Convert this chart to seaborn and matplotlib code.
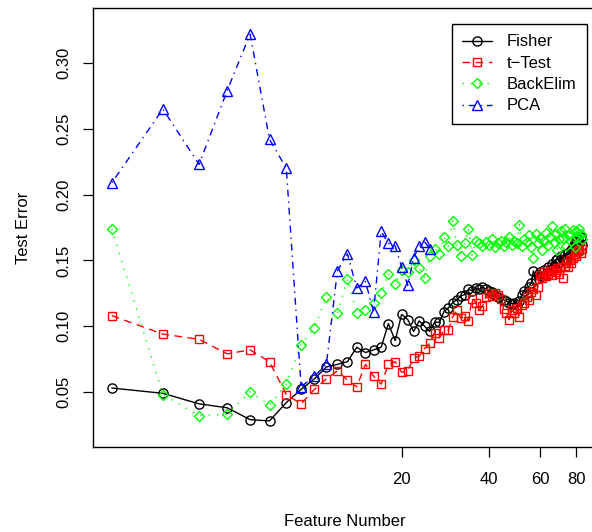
import pandas as pd
import matplotlib
matplotlib.use("Agg")
import matplotlib.pyplot as plt
import seaborn as sns

# feature counts (x) and test error of each selection method
features = list(range(2, 85))
pca_features = list(range(2, 26))

fisher = [0.053, 0.049, 0.041, 0.038, 0.029, 0.028, 0.042, 0.052, 0.060, 0.069,
          0.071, 0.073, 0.084, 0.080, 0.082, 0.084, 0.102, 0.089, 0.109, 0.105,
          0.096, 0.104, 0.100, 0.096, 0.103, 0.103, 0.111, 0.114, 0.118, 0.120,
          0.123, 0.124, 0.128, 0.127, 0.129, 0.128, 0.130, 0.128, 0.127, 0.126,
          0.124, 0.122, 0.121, 0.120, 0.119, 0.118, 0.117, 0.118, 0.116, 0.119,
          0.124, 0.127, 0.125, 0.130, 0.133, 0.142, 0.136, 0.139, 0.141, 0.138,
          0.143, 0.140, 0.145, 0.143, 0.147, 0.146, 0.150, 0.151, 0.149, 0.153,
          0.150, 0.155, 0.152, 0.156, 0.154, 0.158, 0.160, 0.163, 0.165, 0.166,
          0.163, 0.168, 0.162]

ttest = [0.108, 0.094, 0.090, 0.079, 0.082, 0.073, 0.048, 0.041, 0.052, 0.060,
         0.066, 0.059, 0.054, 0.071, 0.062, 0.056, 0.071, 0.073, 0.065, 0.066,
         0.076, 0.077, 0.083, 0.087, 0.095, 0.091, 0.097, 0.097, 0.107, 0.112,
         0.106, 0.108, 0.104, 0.121, 0.118, 0.112, 0.115, 0.122, 0.125, 0.123,
         0.125, 0.124, 0.121, 0.113, 0.110, 0.105, 0.112, 0.110, 0.114, 0.107,
         0.116, 0.118, 0.122, 0.120, 0.126, 0.128, 0.124, 0.130, 0.139, 0.137,
         0.141, 0.138, 0.140, 0.142, 0.139, 0.143, 0.141, 0.144, 0.140, 0.145,
         0.137, 0.146, 0.148, 0.145, 0.150, 0.148, 0.152, 0.155, 0.153, 0.157,
         0.158, 0.156, 0.159]

backelim = [0.174, 0.048, 0.032, 0.033, 0.050, 0.040, 0.056, 0.086, 0.099, 0.122,
            0.110, 0.136, 0.110, 0.112, 0.118, 0.125, 0.140, 0.132, 0.143, 0.141,
            0.150, 0.144, 0.137, 0.153, 0.159, 0.155, 0.168, 0.161, 0.180, 0.162,
            0.153, 0.163, 0.174, 0.154, 0.165, 0.163, 0.161, 0.164, 0.162, 0.166,
            0.160, 0.163, 0.165, 0.161, 0.164, 0.168, 0.162, 0.165, 0.163, 0.177,
            0.161, 0.166, 0.164, 0.169, 0.160, 0.152, 0.170, 0.163, 0.167, 0.158,
            0.165, 0.171, 0.162, 0.168, 0.176, 0.164, 0.170, 0.158, 0.166, 0.172,
            0.167, 0.174, 0.161, 0.169, 0.171, 0.165, 0.173, 0.160, 0.172, 0.168,
            0.174, 0.170, 0.166]

pca = [0.209, 0.265, 0.223, 0.279, 0.322, 0.242, 0.220, 0.054, 0.062, 0.071,
       0.142, 0.155, 0.129, 0.134, 0.111, 0.172, 0.163, 0.161, 0.145, 0.131,
       0.152, 0.161, 0.164, 0.159]

methods = ["Fisher", "t\u2212Test", "BackElim", "PCA"]
yticks = [0.05, 0.10, 0.15, 0.20, 0.25, 0.30]
xticks = [20, 40, 60, 80]

df = pd.concat([
    pd.DataFrame({"feature": features, "error": fisher, "method": methods[0]}),
    pd.DataFrame({"feature": features, "error": ttest, "method": methods[1]}),
    pd.DataFrame({"feature": features, "error": backelim, "method": methods[2]}),
    pd.DataFrame({"feature": pca_features, "error": pca, "method": methods[3]}),
])

sns.set_style("ticks")
plt.rcParams["font.family"] = ["Liberation Sans", "DejaVu Sans"]
plt.rcParams["text.color"] = "black"
plt.rcParams["axes.labelcolor"] = "black"

styles = {
    "Fisher": dict(color="black", marker="o", linestyle="-", markersize=6.6),
    "t\u2212Test": dict(color="red", marker="s", linestyle=(0, (5.5, 4)), markersize=5.9),
    "BackElim": dict(color="#00ff00", marker="D", linestyle=(0, (1, 5)), markersize=5.6),
    "PCA": dict(color="blue", marker="^", linestyle=(0, (1, 3.5, 5, 3.5)), markersize=7.6),
}

fig = plt.figure(figsize=(5.92, 5.32), dpi=100)
ax = fig.add_axes([93 / 592, 85 / 532, 508 / 592, 439 / 532])

for m in methods:
    st = styles[m]
    sns.lineplot(data=df[df["method"] == m], x="feature", y="error", ax=ax,
                 color=st["color"], marker=st["marker"], linestyle=st["linestyle"],
                 markersize=st["markersize"], markerfacecolor="none",
                 markeredgecolor=st["color"], markeredgewidth=1.0,
                 linewidth=1.0, estimator=None, errorbar=None, label=m)

ax.set_xscale("log")
ax.set_xlim(1.722, 97.5)
ax.set_ylim(0.0082, 0.3418)
ax.set_xticks(xticks)
ax.set_xticklabels([str(t) for t in xticks])
ax.xaxis.set_minor_locator(matplotlib.ticker.NullLocator())
ax.set_yticks(yticks)
ax.set_yticklabels(["%.2f" % t for t in yticks])

for s in ax.spines.values():
    s.set_color("black")
    s.set_linewidth(1.0)

ax.tick_params(axis="both", direction="out", length=7.2, width=0.9,
               colors="black", labelsize=12)
ax.tick_params(axis="x", pad=11)
ax.tick_params(axis="y", pad=8.5, labelrotation=90)
for lbl in ax.get_yticklabels():
    lbl.set_va("center")

ax.set_xlabel("Feature Number", fontsize=12)
ax.set_ylabel("Test Error", fontsize=12, va="center")
ax.xaxis.set_label_coords(0.496, -0.153)
ax.yaxis.set_label_coords(-0.1368, 0.5)

leg = ax.legend(loc="upper right", bbox_to_anchor=(587 / 592, 1 - 24 / 532),
                bbox_transform=fig.transFigure, borderaxespad=0, fontsize=12,
                frameon=True, fancybox=False, framealpha=1, edgecolor="black",
                handlelength=1.8, handletextpad=0.9, labelspacing=0.38,
                borderpad=0.62, numpoints=1)
leg.get_frame().set_linewidth(1.0)

fig.savefig("out.png", dpi=100)
